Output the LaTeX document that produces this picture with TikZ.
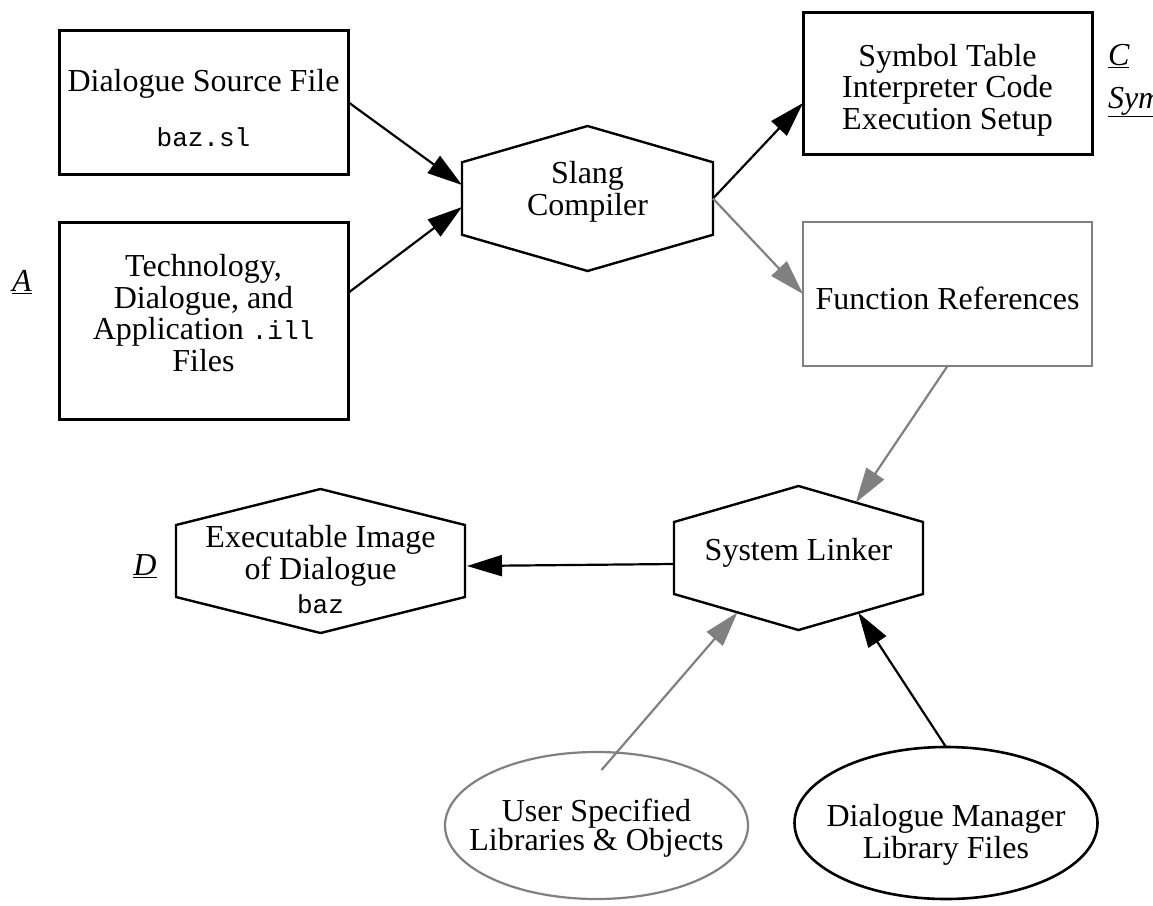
\documentclass[tikz,border=0pt]{standalone}
\usepackage{fontspec}
\setmainfont{Liberation Serif}
\setmonofont{Liberation Mono}
\usetikzlibrary{arrows.meta,calc,shapes.geometric}
\newcommand\drawhexof[2]{%
  \draw[#2] (#1.north) -- ($(#1.north east)!0.25!(#1.south east)$) -- ($(#1.north east)!0.75!(#1.south east)$) -- (#1.south) -- ($(#1.north west)!0.75!(#1.south west)$) -- ($(#1.north west)!0.25!(#1.south west)$) -- cycle;}
\newcommand\mono[1]{{\fontsize{26}{31.5}\selectfont\ttfamily #1}}
\begin{document}
\begin{tikzpicture}[x=1pt,y=-1pt,
  every node/.style={font=\fontsize{32}{31.5}\selectfont, align=center, inner sep=0pt, outer sep=0pt},
  boxnode/.style={draw, line width=3pt, minimum width=289pt},
  grayboxnode/.style={draw=gray, line width=2.2pt, minimum width=289pt},
  hexnode/.style={draw=none},
  hexline/.style={line width=2.4pt, line join=miter},
  ellnode/.style={ellipse, minimum width=303pt},
  txt/.style={},
  blackarrow/.style={line width=2.2pt, -{Triangle[length=35pt,width=21pt]}},
  grayarrow/.style={gray, line width=2.2pt, -{Triangle[length=35pt,width=21pt]}},
  sidemark/.style={font=\fontsize{32}{31.5}\selectfont\itshape}
]
\useasboundingbox (0,0) rectangle (1153,905);

% boxes
\node[boxnode, minimum height=144pt] (src) at (203.5,102) {};
\node[txt] (srcT) at (203.5,108) {Dialogue Source File\\[23.5pt]\mono{baz.sl}};
\node[boxnode, minimum height=197pt] (ill) at (203.5,320.5) {};
\node[txt] (illT) at (203.5,313) {Technology,\\Dialogue, and\\Application \mono{.ill}\\Files};
\node[boxnode, minimum height=142pt] (sym) at (947.5,83) {};
\node[txt] (symT) at (947.5,90) {Symbol Table\\Interpreter Code\\Execution Setup};
\node[grayboxnode, minimum height=144pt] (fref) at (947.5,294) {};
\node[txt] (frefT) at (947.5,298) {Function References};

% hexagons
\node[hexnode, minimum width=251pt, minimum height=145pt] (slang) at (587.5,198.5) {};
\drawhexof{slang}{hexline}
\node[txt] (slangT) at (587.5,192) {Slang\\Compiler};
\node[hexnode, minimum width=249pt, minimum height=144pt] (lnk) at (798.5,558) {};
\drawhexof{lnk}{hexline}
\node[txt] (lnkT) at (798.5,553) {System Linker};
\node[hexnode, minimum width=289pt, minimum height=144pt] (exe) at (320.5,561) {};
\drawhexof{exe}{hexline}
\node[txt] (exeT) at (320.5,570) {Executable Image\\of Dialogue\\[3pt]\mono{baz}};

% ellipses
\node[ellnode, draw=gray, line width=2.2pt, minimum height=147pt] (user) at (596.5,825.5) {};
\node[txt, font=\fontsize{32}{29.5}\selectfont] (userT) at (596.5,828) {User Specified\\Libraries \& Objects};
\node[ellnode, draw, line width=2.6pt, minimum height=152pt] (dm) at (946,823) {};
\node[txt, font=\fontsize{32}{32.5}\selectfont] (dmT) at (946,835) {Dialogue Manager\\Library Files};

% side marks
\node[sidemark] (markA) at (22,282) {\underline{A}};
\node[sidemark, anchor=west] (markC) at (1108,56) {\underline{C}};
\node[sidemark, anchor=west] (markSym) at (1108,102) {\underline{Sym}};
\node[sidemark] (markD) at (145,566) {\underline{D}};

% connectors
\draw[blackarrow] (src.east) -- ($(slang.west)+(0,-13.5)$);
\draw[blackarrow] ($(ill.east)+(0,-27.5)$) -- ($(slang.west)+(0,8.5)$);
\draw[blackarrow] (slang.east) -- ($(sym.west)+(0,20)$);
\draw[grayarrow] (slang.east) -- (fref.west);
\draw[grayarrow] (fref.south) -- ($(lnk.north)!0.46!($(lnk.north east)!0.25!(lnk.south east)$)$);
\draw[blackarrow] ($(lnk.west)+(0,6)$) -- ($(exe.east)+(2,5)$);
\draw[grayarrow] ($(user.north)+(5,18)$) -- ($(lnk.south)!0.49!($(lnk.north west)!0.75!(lnk.south west)$)$);
\draw[blackarrow] (dm.north) -- ($(lnk.south)!0.48!($(lnk.north east)!0.75!(lnk.south east)$)$);
\end{tikzpicture}
\end{document}
